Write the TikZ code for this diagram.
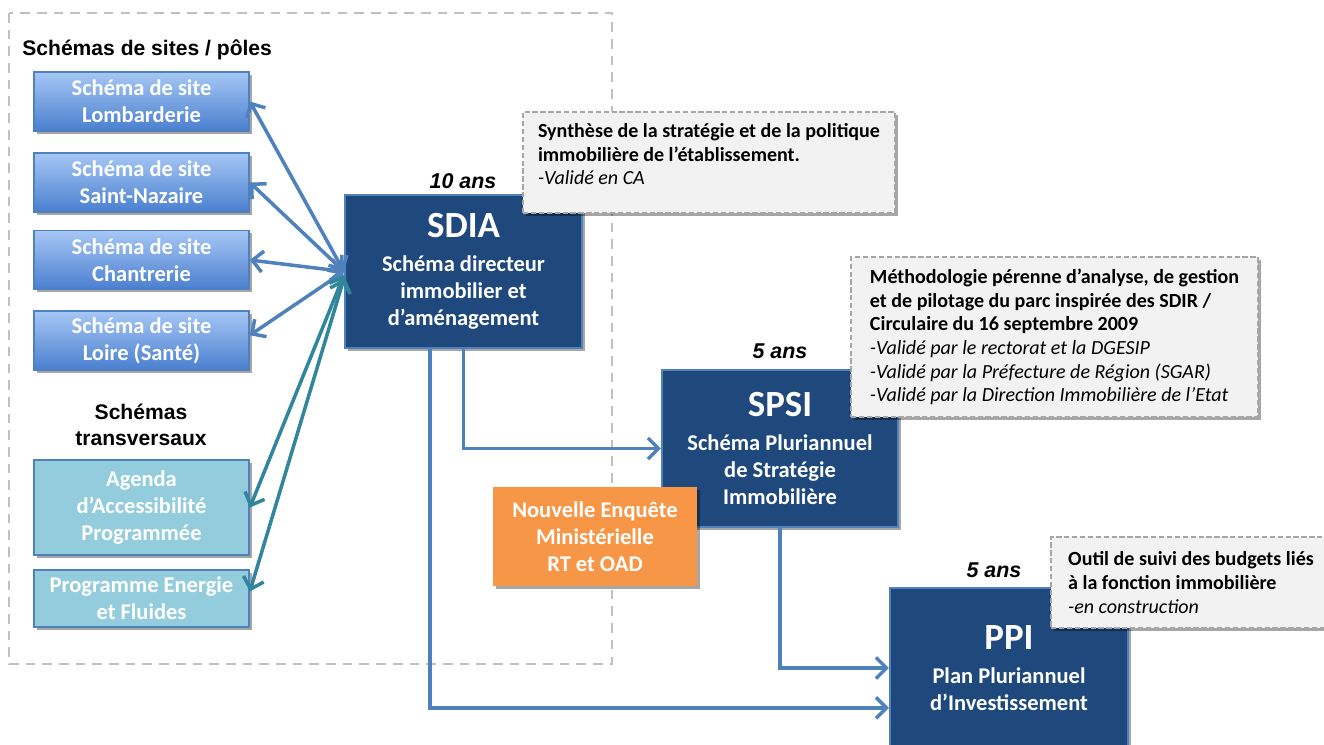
\documentclass[tikz,border=0pt]{standalone}
\usepackage{fontspec}
\setmainfont{Carlito}
\newfontfamily\arialf{Liberation Sans}
\usetikzlibrary{arrows.meta,shadows}
\definecolor{blueline}{HTML}{4F81BD}
\definecolor{tealline}{HTML}{31859C}
\definecolor{darkfill}{HTML}{1F497D}
\definecolor{sitetop}{HTML}{A6C7F5}
\definecolor{sitebot}{HTML}{4A7FCF}
\definecolor{transfill}{HTML}{93CDDD}
\definecolor{orangefill}{HTML}{F79646}
\definecolor{notefill}{HTML}{F2F2F2}
\definecolor{notedash}{HTML}{A6A6A6}
\definecolor{framegray}{HTML}{C0C0C0}
\tikzset{
  shad/.style={drop shadow={shadow xshift=1.5pt,shadow yshift=-1.5pt,opacity=0.35,fill=black}},
  sitebox/.style={shad,draw=blueline,line width=1pt,top color=sitetop,bottom color=sitebot,
    text=white,font=\bfseries\fontsize{12.8}{15.3}\selectfont,align=center,
    minimum width=4.3cm,inner sep=1pt},
  transbox/.style={shad,draw=blueline,line width=1pt,fill=transfill,
    text=white,font=\bfseries\fontsize{12.8}{15.3}\selectfont,align=center,
    minimum width=4.3cm,inner sep=1pt},
  mainbox/.style={shad,draw=blueline,line width=1.2pt,fill=darkfill,
    text=white,font=\bfseries\fontsize{12.8}{15.4}\selectfont,align=center,inner sep=1pt},
  orangebox/.style={shad,fill=orangefill,text=white,
    font=\bfseries\fontsize{12.8}{15.4}\selectfont,align=center,inner sep=1pt},
  notebox/.style={shad,draw=notedash,dashed,dash pattern=on 3pt off 1.5pt,line width=0.9pt,
    fill=notefill,text=black,font=\fontsize{11.4}{13.5}\selectfont,align=left,inner xsep=8pt,inner ysep=2pt},
  anslabel/.style={font=\arialf\bfseries\itshape\fontsize{12.2}{14}\selectfont,inner sep=0pt},
  header/.style={font=\arialf\bfseries\fontsize{12}{14.6}\selectfont,inner sep=0pt,align=center},
  arr/.style={line width=2pt,draw=blueline,arrows={-Straight Barb[length=6pt,width=12pt]}},
  darr/.style={line width=2pt,draw=blueline,arrows={Straight Barb[length=6pt,width=12pt]-Straight Barb[length=6pt,width=12pt]}},
  tarr/.style={line width=2pt,draw=tealline,arrows={Straight Barb[length=6pt,width=12pt]-Straight Barb[length=6pt,width=12pt]}},
  frame/.style={draw=framegray,line width=1.1pt,dash pattern=on 5.5pt off 4pt}
}
\begin{document}
\begin{tikzpicture}[x=0.02cm,y=-0.02cm]
\useasboundingbox (0,0) rectangle (1324,744);
\draw[frame] (9,13) rectangle (612,664);

\node[header,anchor=west] (h1) at (22,50) {Schémas de sites / pôles};
\node[header] (h2) at (141,425) {Schémas\\transversaux};

\node[sitebox,minimum height=1.18cm] (lomb) at (141.5,101.5) {Schéma de site\\Lombarderie};
\node[sitebox,minimum height=1.18cm] (stn) at (141.5,182.5) {Schéma de site\\Saint-Nazaire};
\node[sitebox,minimum height=1.18cm] (chan) at (141.5,260) {Schéma de site\\Chantrerie};
\node[sitebox,minimum height=1.18cm] (loire) at (141.5,340.5) {Schéma de site\\Loire (Santé)};
\node[transbox,minimum height=1.9cm] (agenda) at (141.5,507.5) {Agenda\\d’Accessibilité\\Programmée};
\node[transbox,minimum height=1.14cm] (prog) at (141.5,598.5) {Programme Energie\\et Fluides};

\node[mainbox,minimum width=4.74cm,minimum height=3.06cm] (sdia) at (463.5,271.5)
  {{\fontsize{21}{25}\selectfont SDIA}\\[4pt]Schéma directeur\\immobilier et\\d’aménagement};
\node[mainbox,minimum width=4.72cm,minimum height=3.14cm] (spsi) at (780,448.5)
  {{\fontsize{21}{25}\selectfont SPSI}\\[4pt]Schéma Pluriannuel\\de Stratégie\\Immobilière};
\node[mainbox,minimum width=4.76cm,minimum height=3.2cm] (ppi) at (1009,668)
  {{\fontsize{21}{25}\selectfont PPI}\\[4pt]Plan Pluriannuel\\d’Investissement};
\node[orangebox,minimum width=4.08cm,minimum height=1.98cm] (enq) at (595,536.5)
  {Nouvelle Enquête\\Ministérielle\\RT et OAD};

\node[anslabel] (a1) at (463,181) {10 ans};
\node[anslabel] (a2) at (780,351) {5 ans};
\node[anslabel] (a3) at (994,570) {5 ans};

\node[notebox,minimum width=7.44cm,minimum height=2.02cm] (n1) at (709,162.5)
  {\textbf{Synthèse de la stratégie et de la politique}\\\textbf{immobilière de l’établissement.}\\\textit{-Validé en CA}\\[-4pt]};
\node[notebox,minimum width=8.14cm,minimum height=3.2cm] (n2) at (1054.5,337)
  {\textbf{Méthodologie pérenne d’analyse, de gestion}\\\textbf{et de pilotage du parc inspirée des SDIR /}\\\textbf{Circulaire du 16 septembre 2009}\\\textit{-Validé par le rectorat et la DGESIP}\\\textit{-Validé par la Préfecture de Région (SGAR)}\\\textit{-Validé par la Direction Immobilière de l’Etat}};
\node[notebox,minimum width=5.6cm,minimum height=1.82cm] (n3) at (1191,582.5)
  {\textbf{Outil de suivi des budgets liés}\\\textbf{à la fonction immobilière}\\\textit{-en construction}};

\draw[darr] (sdia.west) -- (lomb.east);
\draw[darr] (sdia.west) -- (stn.east);
\draw[darr] (sdia.west) -- (chan.east);
\draw[darr] (sdia.west) -- ([yshift=3pt]loire.east);
\draw[tarr] ([yshift=-2pt]sdia.west) -- (agenda.east);
\draw[tarr] ([yshift=-4pt]sdia.west) -- ([yshift=4pt]prog.east);

\draw[arr] (sdia.south) |- (spsi.west);
\draw[arr] ([xshift=-19pt]sdia.south) |- ([yshift=-22.7pt]ppi.west);
\draw[arr] (spsi.south) |- (ppi.west);
\end{tikzpicture}
\end{document}
